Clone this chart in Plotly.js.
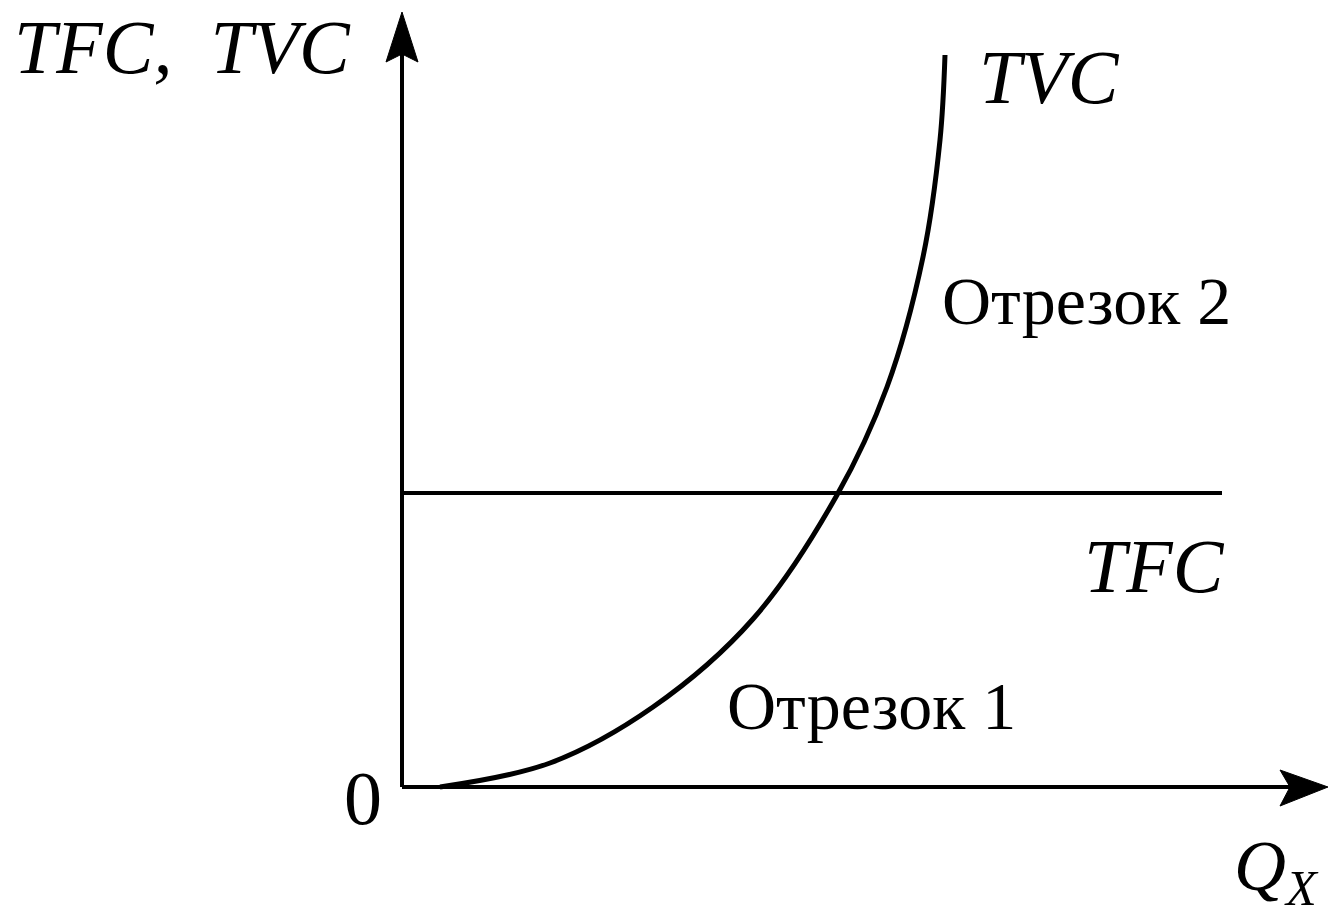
<!DOCTYPE html>
<html>
<head>
<meta charset="utf-8">
<script src="https://cdn.plot.ly/plotly-3.0.1.min.js"></script>
<style>html,body{margin:0;padding:0;background:#fff;}#chart{width:1331px;height:918px;}</style>
</head>
<body>
<div id="chart"></div>
<script>
// Output quantity Q_X (arbitrary units) along the TVC curve
const qValues   = [0.38, 1.48, 2.51, 3.51, 4.35, 4.85, 5.21, 5.38, 5.43];
// Total variable cost at those outputs
const tvcValues = [0.00, 0.24, 0.80, 1.68, 2.92, 4.00, 5.30, 6.47, 7.32];
// Total fixed cost (constant) and its drawn extent
const tfcValue = 2.94;
const tfcQ = [0, 8.2];
// Axis extents (arrow tips)
const xAxisEnd = 9.26;
const yAxisEnd = 7.75;

const serif = "Liberation Serif, Times New Roman, serif";

const traces = [
  {
    x: tfcQ, y: tfcQ.map(() => tfcValue),
    mode: 'lines', line: {color: '#000', width: 4},
    hoverinfo: 'skip', showlegend: false
  },
  {
    x: qValues, y: tvcValues,
    mode: 'lines', line: {color: '#000', width: 5, shape: 'spline', smoothing: 1.0},
    hoverinfo: 'skip', showlegend: false
  }
];

const shapes = [
  {type: 'line', xref: 'x', yref: 'y', x0: 0, y0: 0, x1: 0, y1: yAxisEnd - 0.3, line: {color: '#000', width: 4}},
  {type: 'line', xref: 'x', yref: 'y', x0: 0, y0: 0, x1: xAxisEnd - 0.3, y1: 0, line: {color: '#000', width: 4}},
  {type: 'path', xref: 'x', yref: 'y', fillcolor: '#000', line: {color: '#000', width: 1},
   path: `M0,${yAxisEnd} L-0.16,${yAxisEnd-0.5} L0,${yAxisEnd-0.42} L0.16,${yAxisEnd-0.5} Z`},
  {type: 'path', xref: 'x', yref: 'y', fillcolor: '#000', line: {color: '#000', width: 1},
   path: `M${xAxisEnd},0 L${xAxisEnd-0.48},0.17 L${xAxisEnd-0.38},0 L${xAxisEnd-0.48},-0.19 Z`}
];

function label(text, x, y, size, italic, xanchor) {
  return {
    text: text, x: x, y: y, xref: 'x', yref: 'y', showarrow: false,
    xanchor: xanchor || 'left', yanchor: 'middle',
    font: {family: serif, size: size, color: '#000', style: italic ? 'italic' : 'normal'}
  };
}

const annotations = [
  label('TFC,\u00a0\u00a0TVC', -3.90, 7.40, 76, true),
  label('TVC', 5.75, 7.10, 76, true),
  label('Отрезок 2', 5.38, 4.86, 68, false),
  label('TFC', 6.80, 2.21, 76, true),
  label('Отрезок 1', 3.23, 0.81, 68, false),
  label('0', -0.39, -0.11, 76, false, 'center'),
  label('Q<sub>X</sub>', 8.30, -0.84, 72, true)
];

const layout = {
  width: 1331, height: 918,
  margin: {l: 0, r: 0, t: 0, b: 0},
  paper_bgcolor: '#fff', plot_bgcolor: '#fff',
  xaxis: {range: [-4.02, 9.29], visible: false, fixedrange: true},
  yaxis: {range: [-1.31, 7.87], visible: false, fixedrange: true},
  shapes: shapes,
  annotations: annotations,
  showlegend: false
};

Plotly.newPlot('chart', traces, layout, {displayModeBar: false, staticPlot: true});
</script>
</body>
</html>
